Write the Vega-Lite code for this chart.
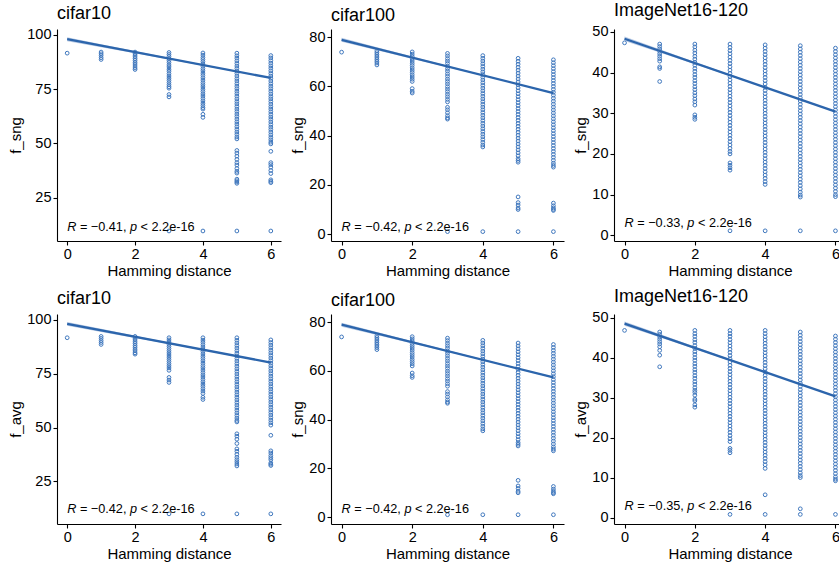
{
"$schema": "https://vega.github.io/schema/vega-lite/v6.json",
"padding": {"left": 8, "top": 1, "right": 0, "bottom": 0},
"datasets": {
"d1": [
{"x":0,"y":91.5},
{"x":1,"y":92},{"x":1,"y":91.2},{"x":1,"y":90.4},{"x":1,"y":89.4},{"x":1,"y":88.6},
{"x":2,"y":92},{"x":2,"y":91.3},{"x":2,"y":90.6},{"x":2,"y":89.8},{"x":2,"y":89},{"x":2,"y":88.2},{"x":2,"y":87.3},{"x":2,"y":86.5},{"x":2,"y":85.6},{"x":2,"y":84.7},{"x":2,"y":84},
{"x":3,"y":91.8},{"x":3,"y":90.9},{"x":3,"y":90},{"x":3,"y":89},{"x":3,"y":88.1},{"x":3,"y":87.2},{"x":3,"y":86.1},{"x":3,"y":85.2},{"x":3,"y":84.1},{"x":3,"y":83.2},{"x":3,"y":82.1},{"x":3,"y":81},{"x":3,"y":80},{"x":3,"y":79},{"x":3,"y":78},{"x":3,"y":77},{"x":3,"y":76.1},{"x":3,"y":75.4},{"x":3,"y":72.5},{"x":3,"y":71.4},{"x":3,"y":9.8},
{"x":4,"y":91.6},{"x":4,"y":90.6},{"x":4,"y":89.5},{"x":4,"y":88.6},{"x":4,"y":87.6},{"x":4,"y":86.5},{"x":4,"y":85.5},{"x":4,"y":84.4},{"x":4,"y":83.4},{"x":4,"y":82.3},{"x":4,"y":81.3},{"x":4,"y":80.2},{"x":4,"y":79.1},{"x":4,"y":78},{"x":4,"y":77},{"x":4,"y":76},{"x":4,"y":74.9},{"x":4,"y":73.9},{"x":4,"y":72.8},{"x":4,"y":71.8},{"x":4,"y":70.7},{"x":4,"y":69.6},{"x":4,"y":68.5},{"x":4,"y":67.5},{"x":4,"y":66.5},{"x":4,"y":65.8},{"x":4,"y":63.4},{"x":4,"y":62},{"x":4,"y":9.8},
{"x":5,"y":91.5},{"x":5,"y":90.3},{"x":5,"y":89.2},{"x":5,"y":88},{"x":5,"y":86.8},{"x":5,"y":85.6},{"x":5,"y":84.5},{"x":5,"y":83.3},{"x":5,"y":82.2},{"x":5,"y":81},{"x":5,"y":79.8},{"x":5,"y":78.7},{"x":5,"y":77.5},{"x":5,"y":76.3},{"x":5,"y":75.2},{"x":5,"y":74},{"x":5,"y":72.9},{"x":5,"y":71.7},{"x":5,"y":70.5},{"x":5,"y":69.3},{"x":5,"y":68.2},{"x":5,"y":67},{"x":5,"y":65.8},{"x":5,"y":64.7},{"x":5,"y":63.5},{"x":5,"y":62.4},{"x":5,"y":61.2},{"x":5,"y":60},{"x":5,"y":58.9},{"x":5,"y":57.7},{"x":5,"y":56.5},{"x":5,"y":55.3},{"x":5,"y":54.2},{"x":5,"y":53},{"x":5,"y":52.1},{"x":5,"y":46.8},{"x":5,"y":45.6},{"x":5,"y":44.2},{"x":5,"y":42.7},{"x":5,"y":41.2},{"x":5,"y":40.1},{"x":5,"y":38.5},{"x":5,"y":37.2},{"x":5,"y":36.4},{"x":5,"y":33.6},{"x":5,"y":32.9},{"x":5,"y":32.3},{"x":5,"y":31.7},{"x":5,"y":9.8},
{"x":6,"y":90.4},{"x":6,"y":89.3},{"x":6,"y":88.1},{"x":6,"y":86.9},{"x":6,"y":85.7},{"x":6,"y":84.6},{"x":6,"y":83.4},{"x":6,"y":82.2},{"x":6,"y":81},{"x":6,"y":79.9},{"x":6,"y":78.7},{"x":6,"y":77.5},{"x":6,"y":76.3},{"x":6,"y":75.2},{"x":6,"y":74},{"x":6,"y":72.8},{"x":6,"y":71.6},{"x":6,"y":70.5},{"x":6,"y":69.3},{"x":6,"y":68.1},{"x":6,"y":66.9},{"x":6,"y":65.8},{"x":6,"y":64.6},{"x":6,"y":63.4},{"x":6,"y":62.2},{"x":6,"y":61.1},{"x":6,"y":59.9},{"x":6,"y":58.7},{"x":6,"y":57.5},{"x":6,"y":56.4},{"x":6,"y":55.2},{"x":6,"y":54},{"x":6,"y":52.8},{"x":6,"y":51.7},{"x":6,"y":50.6},{"x":6,"y":49.8},{"x":6,"y":46.4},{"x":6,"y":41.2},{"x":6,"y":40.3},{"x":6,"y":39.1},{"x":6,"y":37.6},{"x":6,"y":36.2},{"x":6,"y":33.3},{"x":6,"y":32.6},{"x":6,"y":32},{"x":6,"y":9.8}
],
"d4": [
{"x":0,"y":91.6},
{"x":1,"y":92.2},{"x":1,"y":91.3},{"x":1,"y":90.3},{"x":1,"y":89.4},{"x":1,"y":88.5},
{"x":2,"y":92.2},{"x":2,"y":91.4},{"x":2,"y":90.6},{"x":2,"y":89.7},{"x":2,"y":88.9},{"x":2,"y":88},{"x":2,"y":87.2},{"x":2,"y":86.3},{"x":2,"y":85.5},{"x":2,"y":84.6},{"x":2,"y":84},
{"x":3,"y":91.6},{"x":3,"y":90.6},{"x":3,"y":89.6},{"x":3,"y":88.6},{"x":3,"y":87.6},{"x":3,"y":86.6},{"x":3,"y":85.6},{"x":3,"y":84.6},{"x":3,"y":83.6},{"x":3,"y":82.6},{"x":3,"y":81.6},{"x":3,"y":80.6},{"x":3,"y":79.6},{"x":3,"y":78.6},{"x":3,"y":77.6},{"x":3,"y":76.5},{"x":3,"y":73.2},{"x":3,"y":72},{"x":3,"y":70.9},{"x":3,"y":10},
{"x":4,"y":91.6},{"x":4,"y":90.5},{"x":4,"y":89.5},{"x":4,"y":88.4},{"x":4,"y":87.3},{"x":4,"y":86.2},{"x":4,"y":85.2},{"x":4,"y":84.1},{"x":4,"y":83},{"x":4,"y":82},{"x":4,"y":80.9},{"x":4,"y":79.8},{"x":4,"y":78.7},{"x":4,"y":77.7},{"x":4,"y":76.6},{"x":4,"y":75.5},{"x":4,"y":74.4},{"x":4,"y":73.4},{"x":4,"y":72.3},{"x":4,"y":71.2},{"x":4,"y":70.1},{"x":4,"y":69.1},{"x":4,"y":68},{"x":4,"y":66.9},{"x":4,"y":65.8},{"x":4,"y":64},{"x":4,"y":63},{"x":4,"y":10},
{"x":5,"y":91.6},{"x":5,"y":90.4},{"x":5,"y":89.2},{"x":5,"y":88},{"x":5,"y":86.8},{"x":5,"y":85.6},{"x":5,"y":84.4},{"x":5,"y":83.2},{"x":5,"y":82},{"x":5,"y":80.8},{"x":5,"y":79.6},{"x":5,"y":78.4},{"x":5,"y":77.2},{"x":5,"y":76},{"x":5,"y":74.8},{"x":5,"y":73.6},{"x":5,"y":72.4},{"x":5,"y":71.2},{"x":5,"y":70},{"x":5,"y":68.8},{"x":5,"y":67.6},{"x":5,"y":66.4},{"x":5,"y":65.2},{"x":5,"y":64},{"x":5,"y":62.8},{"x":5,"y":61.6},{"x":5,"y":60.4},{"x":5,"y":59.2},{"x":5,"y":58},{"x":5,"y":56.8},{"x":5,"y":55.6},{"x":5,"y":54.4},{"x":5,"y":53.3},{"x":5,"y":52.6},{"x":5,"y":47.1},{"x":5,"y":46},{"x":5,"y":44.6},{"x":5,"y":42.6},{"x":5,"y":40.1},{"x":5,"y":39},{"x":5,"y":37.6},{"x":5,"y":36.2},{"x":5,"y":35.1},{"x":5,"y":34.1},{"x":5,"y":33.1},{"x":5,"y":32.2},{"x":5,"y":10},
{"x":6,"y":90.6},{"x":6,"y":89.4},{"x":6,"y":88.2},{"x":6,"y":87},{"x":6,"y":85.8},{"x":6,"y":84.6},{"x":6,"y":83.4},{"x":6,"y":82.2},{"x":6,"y":81},{"x":6,"y":79.8},{"x":6,"y":78.6},{"x":6,"y":77.4},{"x":6,"y":76.2},{"x":6,"y":75},{"x":6,"y":73.8},{"x":6,"y":72.6},{"x":6,"y":71.4},{"x":6,"y":70.2},{"x":6,"y":69},{"x":6,"y":67.8},{"x":6,"y":66.6},{"x":6,"y":65.4},{"x":6,"y":64.2},{"x":6,"y":63},{"x":6,"y":61.8},{"x":6,"y":60.6},{"x":6,"y":59.4},{"x":6,"y":58.2},{"x":6,"y":57},{"x":6,"y":55.8},{"x":6,"y":54.6},{"x":6,"y":53.4},{"x":6,"y":52.2},{"x":6,"y":51.1},{"x":6,"y":46.4},{"x":6,"y":39.2},{"x":6,"y":38.2},{"x":6,"y":37},{"x":6,"y":36},{"x":6,"y":35.1},{"x":6,"y":33.6},{"x":6,"y":33},{"x":6,"y":32.4},{"x":6,"y":10}
],
"d2": [
{"x":0,"y":73.9},
{"x":1,"y":74.4},{"x":1,"y":73.7},{"x":1,"y":73},{"x":1,"y":72.3},{"x":1,"y":71.6},{"x":1,"y":70.9},{"x":1,"y":70.2},{"x":1,"y":69.5},{"x":1,"y":68.7},
{"x":2,"y":74},{"x":2,"y":73.1},{"x":2,"y":72.2},{"x":2,"y":71.2},{"x":2,"y":70.3},{"x":2,"y":69.4},{"x":2,"y":68.5},{"x":2,"y":67.5},{"x":2,"y":66.6},{"x":2,"y":65.7},{"x":2,"y":64.7},{"x":2,"y":63.8},{"x":2,"y":62.9},{"x":2,"y":62},{"x":2,"y":59.1},{"x":2,"y":58},{"x":2,"y":57.3},
{"x":3,"y":73.4},{"x":3,"y":72.4},{"x":3,"y":71.3},{"x":3,"y":70.3},{"x":3,"y":69.3},{"x":3,"y":68.2},{"x":3,"y":67.2},{"x":3,"y":66.2},{"x":3,"y":65.1},{"x":3,"y":64.1},{"x":3,"y":63},{"x":3,"y":62},{"x":3,"y":61},{"x":3,"y":59.9},{"x":3,"y":58.9},{"x":3,"y":57.9},{"x":3,"y":56.8},{"x":3,"y":55.8},{"x":3,"y":54.7},{"x":3,"y":53.7},{"x":3,"y":51.5},{"x":3,"y":50.5},{"x":3,"y":49.3},{"x":3,"y":48.1},{"x":3,"y":47.2},{"x":3,"y":46.7},{"x":3,"y":1},
{"x":4,"y":72.5},{"x":4,"y":71.4},{"x":4,"y":70.3},{"x":4,"y":69.2},{"x":4,"y":68.1},{"x":4,"y":67},{"x":4,"y":65.9},{"x":4,"y":64.8},{"x":4,"y":63.7},{"x":4,"y":62.6},{"x":4,"y":61.5},{"x":4,"y":60.4},{"x":4,"y":59.3},{"x":4,"y":58.2},{"x":4,"y":57.1},{"x":4,"y":56},{"x":4,"y":54.9},{"x":4,"y":53.8},{"x":4,"y":52.7},{"x":4,"y":51.6},{"x":4,"y":50.5},{"x":4,"y":49.4},{"x":4,"y":48.3},{"x":4,"y":47.2},{"x":4,"y":46.1},{"x":4,"y":45},{"x":4,"y":43.9},{"x":4,"y":42.8},{"x":4,"y":41.7},{"x":4,"y":40.6},{"x":4,"y":39.5},{"x":4,"y":38.4},{"x":4,"y":37.3},{"x":4,"y":36.2},{"x":4,"y":35.4},{"x":4,"y":1},
{"x":5,"y":71.4},{"x":5,"y":70.2},{"x":5,"y":69},{"x":5,"y":67.8},{"x":5,"y":66.6},{"x":5,"y":65.4},{"x":5,"y":64.2},{"x":5,"y":63},{"x":5,"y":61.8},{"x":5,"y":60.6},{"x":5,"y":59.4},{"x":5,"y":58.2},{"x":5,"y":57},{"x":5,"y":55.8},{"x":5,"y":54.6},{"x":5,"y":53.4},{"x":5,"y":52.2},{"x":5,"y":51},{"x":5,"y":49.8},{"x":5,"y":48.6},{"x":5,"y":47.4},{"x":5,"y":46.2},{"x":5,"y":45},{"x":5,"y":43.8},{"x":5,"y":42.6},{"x":5,"y":41.4},{"x":5,"y":40.2},{"x":5,"y":39},{"x":5,"y":37.8},{"x":5,"y":36.6},{"x":5,"y":35.4},{"x":5,"y":34.2},{"x":5,"y":33},{"x":5,"y":31.8},{"x":5,"y":30.6},{"x":5,"y":29.9},{"x":5,"y":29.2},{"x":5,"y":15.1},{"x":5,"y":12.8},{"x":5,"y":11.8},{"x":5,"y":10.6},{"x":5,"y":10},{"x":5,"y":1},
{"x":6,"y":70.8},{"x":6,"y":69.6},{"x":6,"y":68.4},{"x":6,"y":67.2},{"x":6,"y":66},{"x":6,"y":64.8},{"x":6,"y":63.6},{"x":6,"y":62.4},{"x":6,"y":61.2},{"x":6,"y":60},{"x":6,"y":58.8},{"x":6,"y":57.6},{"x":6,"y":56.4},{"x":6,"y":55.2},{"x":6,"y":54},{"x":6,"y":52.8},{"x":6,"y":51.6},{"x":6,"y":50.4},{"x":6,"y":49.2},{"x":6,"y":48},{"x":6,"y":46.8},{"x":6,"y":45.6},{"x":6,"y":44.4},{"x":6,"y":43.2},{"x":6,"y":42},{"x":6,"y":40.8},{"x":6,"y":39.6},{"x":6,"y":38.4},{"x":6,"y":37.2},{"x":6,"y":36},{"x":6,"y":34.8},{"x":6,"y":33.6},{"x":6,"y":32.4},{"x":6,"y":31.2},{"x":6,"y":30},{"x":6,"y":28.8},{"x":6,"y":27.9},{"x":6,"y":27.2},{"x":6,"y":12.6},{"x":6,"y":11.5},{"x":6,"y":10.6},{"x":6,"y":10},{"x":6,"y":9.6},{"x":6,"y":1}
],
"d3": [
{"x":0,"y":47.3},
{"x":1,"y":47},{"x":1,"y":46.4},{"x":1,"y":45.8},{"x":1,"y":45.2},{"x":1,"y":44.6},{"x":1,"y":44},{"x":1,"y":43.4},{"x":1,"y":42.8},{"x":1,"y":41.4},{"x":1,"y":41},{"x":1,"y":37.8},
{"x":2,"y":47},{"x":2,"y":46.3},{"x":2,"y":45.5},{"x":2,"y":44.8},{"x":2,"y":44},{"x":2,"y":43.3},{"x":2,"y":42.5},{"x":2,"y":41.8},{"x":2,"y":41},{"x":2,"y":40.3},{"x":2,"y":39.5},{"x":2,"y":38.8},{"x":2,"y":38},{"x":2,"y":37.3},{"x":2,"y":36.5},{"x":2,"y":35.8},{"x":2,"y":35},{"x":2,"y":34.3},{"x":2,"y":33.5},{"x":2,"y":32.8},{"x":2,"y":32},{"x":2,"y":29.6},{"x":2,"y":29},{"x":2,"y":28.5},
{"x":3,"y":47},{"x":3,"y":46.2},{"x":3,"y":45.4},{"x":3,"y":44.6},{"x":3,"y":43.8},{"x":3,"y":43},{"x":3,"y":42.2},{"x":3,"y":41.4},{"x":3,"y":40.6},{"x":3,"y":39.8},{"x":3,"y":39},{"x":3,"y":38.2},{"x":3,"y":37.4},{"x":3,"y":36.6},{"x":3,"y":35.8},{"x":3,"y":35},{"x":3,"y":34.2},{"x":3,"y":33.4},{"x":3,"y":32.6},{"x":3,"y":31.8},{"x":3,"y":31},{"x":3,"y":30.2},{"x":3,"y":29.4},{"x":3,"y":28.6},{"x":3,"y":27.8},{"x":3,"y":27},{"x":3,"y":26.2},{"x":3,"y":25.4},{"x":3,"y":24.6},{"x":3,"y":23.8},{"x":3,"y":23},{"x":3,"y":22.2},{"x":3,"y":21.4},{"x":3,"y":20.6},{"x":3,"y":20},{"x":3,"y":17.8},{"x":3,"y":17.2},{"x":3,"y":16.6},{"x":3,"y":16},{"x":3,"y":1.1},
{"x":4,"y":46.8},{"x":4,"y":46},{"x":4,"y":45.2},{"x":4,"y":44.4},{"x":4,"y":43.6},{"x":4,"y":42.8},{"x":4,"y":42},{"x":4,"y":41.2},{"x":4,"y":40.4},{"x":4,"y":39.6},{"x":4,"y":38.8},{"x":4,"y":38},{"x":4,"y":37.2},{"x":4,"y":36.4},{"x":4,"y":35.6},{"x":4,"y":34.8},{"x":4,"y":34},{"x":4,"y":33.2},{"x":4,"y":32.4},{"x":4,"y":31.6},{"x":4,"y":30.8},{"x":4,"y":30},{"x":4,"y":29.2},{"x":4,"y":28.4},{"x":4,"y":27.6},{"x":4,"y":26.8},{"x":4,"y":26},{"x":4,"y":25.2},{"x":4,"y":24.4},{"x":4,"y":23.6},{"x":4,"y":22.8},{"x":4,"y":22},{"x":4,"y":21.2},{"x":4,"y":20.4},{"x":4,"y":19.6},{"x":4,"y":18.8},{"x":4,"y":18},{"x":4,"y":17.2},{"x":4,"y":16.4},{"x":4,"y":15.6},{"x":4,"y":14.8},{"x":4,"y":14},{"x":4,"y":13.2},{"x":4,"y":12.5},{"x":4,"y":1.1},
{"x":5,"y":46.6},{"x":5,"y":45.8},{"x":5,"y":45},{"x":5,"y":44.2},{"x":5,"y":43.4},{"x":5,"y":42.6},{"x":5,"y":41.8},{"x":5,"y":41},{"x":5,"y":40.2},{"x":5,"y":39.4},{"x":5,"y":38.6},{"x":5,"y":37.8},{"x":5,"y":37},{"x":5,"y":36.2},{"x":5,"y":35.4},{"x":5,"y":34.6},{"x":5,"y":33.8},{"x":5,"y":33},{"x":5,"y":32.2},{"x":5,"y":31.4},{"x":5,"y":30.6},{"x":5,"y":29.8},{"x":5,"y":29},{"x":5,"y":28.2},{"x":5,"y":27.4},{"x":5,"y":26.6},{"x":5,"y":25.8},{"x":5,"y":25},{"x":5,"y":24.2},{"x":5,"y":23.4},{"x":5,"y":22.6},{"x":5,"y":21.8},{"x":5,"y":21},{"x":5,"y":20.2},{"x":5,"y":19.4},{"x":5,"y":18.6},{"x":5,"y":17.8},{"x":5,"y":17},{"x":5,"y":16.2},{"x":5,"y":15.4},{"x":5,"y":14.6},{"x":5,"y":13.8},{"x":5,"y":13},{"x":5,"y":12.2},{"x":5,"y":11.4},{"x":5,"y":10.6},{"x":5,"y":9.9},{"x":5,"y":9.4},{"x":5,"y":1.1},
{"x":6,"y":46},{"x":6,"y":45.2},{"x":6,"y":44.4},{"x":6,"y":43.6},{"x":6,"y":42.8},{"x":6,"y":42},{"x":6,"y":41.2},{"x":6,"y":40.4},{"x":6,"y":39.6},{"x":6,"y":38.8},{"x":6,"y":38},{"x":6,"y":37.2},{"x":6,"y":36.4},{"x":6,"y":35.6},{"x":6,"y":34.8},{"x":6,"y":34},{"x":6,"y":33.2},{"x":6,"y":32.4},{"x":6,"y":31.6},{"x":6,"y":30.8},{"x":6,"y":30},{"x":6,"y":29.2},{"x":6,"y":28.4},{"x":6,"y":27.6},{"x":6,"y":26.8},{"x":6,"y":26},{"x":6,"y":25.2},{"x":6,"y":24.4},{"x":6,"y":23.6},{"x":6,"y":22.8},{"x":6,"y":22},{"x":6,"y":21.2},{"x":6,"y":20.4},{"x":6,"y":19.6},{"x":6,"y":18.8},{"x":6,"y":18},{"x":6,"y":17.2},{"x":6,"y":16.4},{"x":6,"y":15.6},{"x":6,"y":14.8},{"x":6,"y":14},{"x":6,"y":13.2},{"x":6,"y":12.4},{"x":6,"y":11.6},{"x":6,"y":10.8},{"x":6,"y":10},{"x":6,"y":9.5},{"x":6,"y":1.1}
],
"d6": [
{"x":0,"y":46.8},
{"x":1,"y":46.4},{"x":1,"y":45.8},{"x":1,"y":45.2},{"x":1,"y":44.6},{"x":1,"y":44},{"x":1,"y":43.4},{"x":1,"y":42.7},{"x":1,"y":41.8},{"x":1,"y":40.6},{"x":1,"y":37.7},
{"x":2,"y":46.8},{"x":2,"y":46},{"x":2,"y":45.3},{"x":2,"y":44.5},{"x":2,"y":43.8},{"x":2,"y":43},{"x":2,"y":42.3},{"x":2,"y":41.5},{"x":2,"y":40.8},{"x":2,"y":40},{"x":2,"y":39.3},{"x":2,"y":38.5},{"x":2,"y":37.8},{"x":2,"y":37},{"x":2,"y":36.3},{"x":2,"y":35.5},{"x":2,"y":34.8},{"x":2,"y":34},{"x":2,"y":33.3},{"x":2,"y":32.5},{"x":2,"y":31.8},{"x":2,"y":31.3},{"x":2,"y":30.6},{"x":2,"y":29.6},{"x":2,"y":29.2},{"x":2,"y":28.2},{"x":2,"y":27.6},
{"x":3,"y":46.8},{"x":3,"y":46},{"x":3,"y":45.3},{"x":3,"y":44.5},{"x":3,"y":43.7},{"x":3,"y":42.9},{"x":3,"y":42.1},{"x":3,"y":41.3},{"x":3,"y":40.5},{"x":3,"y":39.7},{"x":3,"y":38.9},{"x":3,"y":38.1},{"x":3,"y":37.3},{"x":3,"y":36.5},{"x":3,"y":35.7},{"x":3,"y":34.9},{"x":3,"y":34.1},{"x":3,"y":33.3},{"x":3,"y":32.5},{"x":3,"y":31.7},{"x":3,"y":30.9},{"x":3,"y":30.1},{"x":3,"y":29.3},{"x":3,"y":28.5},{"x":3,"y":27.7},{"x":3,"y":26.9},{"x":3,"y":26.1},{"x":3,"y":25.3},{"x":3,"y":24.5},{"x":3,"y":23.7},{"x":3,"y":22.9},{"x":3,"y":22.1},{"x":3,"y":21.3},{"x":3,"y":20.5},{"x":3,"y":19.7},{"x":3,"y":19},{"x":3,"y":17.3},{"x":3,"y":16.8},{"x":3,"y":16.2},{"x":3,"y":0.8},
{"x":4,"y":46.8},{"x":4,"y":46},{"x":4,"y":45.2},{"x":4,"y":44.4},{"x":4,"y":43.6},{"x":4,"y":42.8},{"x":4,"y":42},{"x":4,"y":41.2},{"x":4,"y":40.4},{"x":4,"y":39.6},{"x":4,"y":38.8},{"x":4,"y":38},{"x":4,"y":37.2},{"x":4,"y":36.4},{"x":4,"y":35.6},{"x":4,"y":34.8},{"x":4,"y":34},{"x":4,"y":33.2},{"x":4,"y":32.4},{"x":4,"y":31.6},{"x":4,"y":30.8},{"x":4,"y":30},{"x":4,"y":29.2},{"x":4,"y":28.4},{"x":4,"y":27.6},{"x":4,"y":26.8},{"x":4,"y":26},{"x":4,"y":25.2},{"x":4,"y":24.4},{"x":4,"y":23.6},{"x":4,"y":22.8},{"x":4,"y":22},{"x":4,"y":21.2},{"x":4,"y":20.4},{"x":4,"y":19.6},{"x":4,"y":18.8},{"x":4,"y":18},{"x":4,"y":17.2},{"x":4,"y":16.4},{"x":4,"y":15.6},{"x":4,"y":14.8},{"x":4,"y":14},{"x":4,"y":13.2},{"x":4,"y":12.3},{"x":4,"y":5.7},{"x":4,"y":0.8},
{"x":5,"y":46.4},{"x":5,"y":45.6},{"x":5,"y":44.8},{"x":5,"y":44},{"x":5,"y":43.2},{"x":5,"y":42.4},{"x":5,"y":41.6},{"x":5,"y":40.8},{"x":5,"y":40},{"x":5,"y":39.2},{"x":5,"y":38.4},{"x":5,"y":37.6},{"x":5,"y":36.8},{"x":5,"y":36},{"x":5,"y":35.2},{"x":5,"y":34.4},{"x":5,"y":33.6},{"x":5,"y":32.8},{"x":5,"y":32},{"x":5,"y":31.2},{"x":5,"y":30.4},{"x":5,"y":29.6},{"x":5,"y":28.8},{"x":5,"y":28},{"x":5,"y":27.2},{"x":5,"y":26.4},{"x":5,"y":25.6},{"x":5,"y":24.8},{"x":5,"y":24},{"x":5,"y":23.2},{"x":5,"y":22.4},{"x":5,"y":21.6},{"x":5,"y":20.8},{"x":5,"y":20},{"x":5,"y":19.2},{"x":5,"y":18.4},{"x":5,"y":17.6},{"x":5,"y":16.8},{"x":5,"y":16},{"x":5,"y":15.2},{"x":5,"y":14.4},{"x":5,"y":13.6},{"x":5,"y":12.8},{"x":5,"y":12},{"x":5,"y":11.2},{"x":5,"y":10.5},{"x":5,"y":10},{"x":5,"y":2.2},{"x":5,"y":0.8},
{"x":6,"y":45.4},{"x":6,"y":44.6},{"x":6,"y":43.8},{"x":6,"y":43},{"x":6,"y":42.2},{"x":6,"y":41.4},{"x":6,"y":40.6},{"x":6,"y":39.8},{"x":6,"y":39},{"x":6,"y":38.2},{"x":6,"y":37.4},{"x":6,"y":36.6},{"x":6,"y":35.8},{"x":6,"y":35},{"x":6,"y":34.2},{"x":6,"y":33.4},{"x":6,"y":32.6},{"x":6,"y":31.8},{"x":6,"y":31},{"x":6,"y":30.2},{"x":6,"y":29.4},{"x":6,"y":28.6},{"x":6,"y":27.8},{"x":6,"y":27},{"x":6,"y":26.2},{"x":6,"y":25.4},{"x":6,"y":24.6},{"x":6,"y":23.8},{"x":6,"y":23},{"x":6,"y":22.2},{"x":6,"y":21.4},{"x":6,"y":20.6},{"x":6,"y":19.8},{"x":6,"y":19},{"x":6,"y":18.2},{"x":6,"y":17.4},{"x":6,"y":16.6},{"x":6,"y":15.8},{"x":6,"y":15},{"x":6,"y":14.2},{"x":6,"y":13.4},{"x":6,"y":12.6},{"x":6,"y":11.8},{"x":6,"y":11},{"x":6,"y":10.2},{"x":6,"y":9.6},{"x":6,"y":9.2},{"x":6,"y":0.8}
],
"b1": [{"x":0,"y":97.0,"y2":98.8},{"x":1,"y":94.2,"y2":95.65},{"x":2,"y":91.45,"y2":92.5},{"x":3,"y":88.6,"y2":89.4},{"x":4,"y":85.75,"y2":86.3},{"x":5,"y":82.85,"y2":83.3},{"x":6,"y":79.85,"y2":80.35}],
"l1": [{"x":0,"y":97.9},{"x":6,"y":80.1}],
"b4": [{"x":0,"y":97.1,"y2":98.9},{"x":1,"y":94.3,"y2":95.75},{"x":2,"y":91.5,"y2":92.55},{"x":3,"y":88.65,"y2":89.45},{"x":4,"y":85.8,"y2":86.35},{"x":5,"y":82.85,"y2":83.3},{"x":6,"y":79.85,"y2":80.35}],
"l4": [{"x":0,"y":98.0},{"x":6,"y":80.1}],
"b2": [{"x":0,"y":78.1,"y2":79.7},{"x":1,"y":74.7,"y2":75.9},{"x":2,"y":71.25,"y2":72.15},{"x":3,"y":67.8,"y2":68.4},{"x":4,"y":64.3,"y2":64.7},{"x":5,"y":60.72,"y2":61.08},{"x":6,"y":57.05,"y2":57.55}],
"l2": [{"x":0,"y":78.9},{"x":6,"y":57.3}],
"b3": [{"x":0,"y":47.75,"y2":48.85},{"x":1,"y":44.92,"y2":45.72},{"x":2,"y":42.05,"y2":42.61},{"x":3,"y":39.17,"y2":39.53},{"x":4,"y":36.25,"y2":36.49},{"x":5,"y":33.28,"y2":33.48},{"x":6,"y":30.27,"y2":30.53}],
"l3": [{"x":0,"y":48.3},{"x":6,"y":30.4}],
"b6": [{"x":0,"y":47.95,"y2":49.05},{"x":1,"y":45.07,"y2":45.87},{"x":2,"y":42.15,"y2":42.71},{"x":3,"y":39.22,"y2":39.58},{"x":4,"y":36.25,"y2":36.49},{"x":5,"y":33.23,"y2":33.43},{"x":6,"y":30.17,"y2":30.43}],
"l6": [{"x":0,"y":48.5},{"x":6,"y":30.3}],
"t1": [{"x":0,"y":11.8,"a":"= −0.41,"}],
"t2": [{"x":0,"y":3.0,"a":"= −0.42,"}],
"t3": [{"x":0,"y":3.1,"a":"= −0.33,"}],
"t4": [{"x":0,"y":12.2,"a":"= −0.42,"}],
"t5": [{"x":0,"y":3.2,"a":"= −0.42,"}],
"t6": [{"x":0,"y":3.0,"a":"= −0.35,"}]
},
"spacing": 8,
"vconcat": [
{"hconcat": [
{"title":"cifar10","width":224,"height":212,
"encoding":{"x":{"field":"x","type":"quantitative","scale":{"domain":[-0.3,6.3],"nice":false,"zero":false},"axis":{"values":[0,2,4,6],"title":"Hamming distance"}},
"y":{"field":"y","type":"quantitative","scale":{"domain":[5.2,102.6],"nice":false,"zero":false},"axis":{"values":[25,50,75,100],"title":"f_sng"}}},
"layer":[
{"data":{"name":"d1"},"mark":{"type":"point","shape":"circle","filled":false,"size":14,"strokeWidth":1,"color":"#4078be","opacity":1}},
{"data":{"name":"b1"},"mark":{"type":"area","color":"#8aa8d4","opacity":0.6},"encoding":{"y2":{"field":"y2"}}},
{"data":{"name":"l1"},"mark":{"type":"line","color":"#2c65ac","strokeWidth":2.3}},
{"data":{"name":"t1"},"mark":{"type":"text","text":"R","fontStyle":"italic","align":"left","baseline":"middle","fontSize":12.7}},
{"data":{"name":"t1"},"mark":{"type":"text","align":"left","baseline":"middle","fontSize":12.7,"dx":12.7},"encoding":{"text":{"field":"a"}}},
{"data":{"name":"t1"},"mark":{"type":"text","text":"p","fontStyle":"italic","align":"left","baseline":"middle","fontSize":12.7,"dx":62.8}},
{"data":{"name":"t1"},"mark":{"type":"text","text":"< 2.2e-16","align":"left","baseline":"middle","fontSize":12.7,"dx":73.4}}
]},
{"title":"cifar100","width":233,"height":212,
"encoding":{"x":{"field":"x","type":"quantitative","scale":{"domain":[-0.3,6.3],"nice":false,"zero":false},"axis":{"values":[0,2,4,6],"title":"Hamming distance"}},
"y":{"field":"y","type":"quantitative","scale":{"domain":[-2.8,83.3],"nice":false,"zero":false},"axis":{"values":[0,20,40,60,80],"title":"f_sng"}}},
"layer":[
{"data":{"name":"d2"},"mark":{"type":"point","shape":"circle","filled":false,"size":14,"strokeWidth":1,"color":"#4078be","opacity":1}},
{"data":{"name":"b2"},"mark":{"type":"area","color":"#8aa8d4","opacity":0.6},"encoding":{"y2":{"field":"y2"}}},
{"data":{"name":"l2"},"mark":{"type":"line","color":"#2c65ac","strokeWidth":2.3}},
{"data":{"name":"t2"},"mark":{"type":"text","text":"R","fontStyle":"italic","align":"left","baseline":"middle","fontSize":12.7}},
{"data":{"name":"t2"},"mark":{"type":"text","align":"left","baseline":"middle","fontSize":12.7,"dx":12.7},"encoding":{"text":{"field":"a"}}},
{"data":{"name":"t2"},"mark":{"type":"text","text":"p","fontStyle":"italic","align":"left","baseline":"middle","fontSize":12.7,"dx":62.8}},
{"data":{"name":"t2"},"mark":{"type":"text","text":"< 2.2e-16","align":"left","baseline":"middle","fontSize":12.7,"dx":73.4}}
]},
{"title":"ImageNet16-120","width":232,"height":212,
"encoding":{"x":{"field":"x","type":"quantitative","scale":{"domain":[-0.3,6.3],"nice":false,"zero":false},"axis":{"values":[0,2,4,6],"title":"Hamming distance"}},
"y":{"field":"y","type":"quantitative","scale":{"domain":[-1.4,50.7],"nice":false,"zero":false},"axis":{"values":[0,10,20,30,40,50],"title":"f_sng"}}},
"layer":[
{"data":{"name":"d3"},"mark":{"type":"point","shape":"circle","filled":false,"size":14,"strokeWidth":1,"color":"#4078be","opacity":1}},
{"data":{"name":"b3"},"mark":{"type":"area","color":"#8aa8d4","opacity":0.6},"encoding":{"y2":{"field":"y2"}}},
{"data":{"name":"l3"},"mark":{"type":"line","color":"#2c65ac","strokeWidth":2.3}},
{"data":{"name":"t3"},"mark":{"type":"text","text":"R","fontStyle":"italic","align":"left","baseline":"middle","fontSize":12.7}},
{"data":{"name":"t3"},"mark":{"type":"text","align":"left","baseline":"middle","fontSize":12.7,"dx":12.7},"encoding":{"text":{"field":"a"}}},
{"data":{"name":"t3"},"mark":{"type":"text","text":"p","fontStyle":"italic","align":"left","baseline":"middle","fontSize":12.7,"dx":62.8}},
{"data":{"name":"t3"},"mark":{"type":"text","text":"< 2.2e-16","align":"left","baseline":"middle","fontSize":12.7,"dx":73.4}}
]}
], "spacing": 9},
{"hconcat": [
{"title":"cifar10","width":224,"height":210,
"encoding":{"x":{"field":"x","type":"quantitative","scale":{"domain":[-0.3,6.3],"nice":false,"zero":false},"axis":{"values":[0,2,4,6],"title":"Hamming distance"}},
"y":{"field":"y","type":"quantitative","scale":{"domain":[5.3,102.6],"nice":false,"zero":false},"axis":{"values":[25,50,75,100],"title":"f_avg"}}},
"layer":[
{"data":{"name":"d4"},"mark":{"type":"point","shape":"circle","filled":false,"size":14,"strokeWidth":1,"color":"#4078be","opacity":1}},
{"data":{"name":"b4"},"mark":{"type":"area","color":"#8aa8d4","opacity":0.6},"encoding":{"y2":{"field":"y2"}}},
{"data":{"name":"l4"},"mark":{"type":"line","color":"#2c65ac","strokeWidth":2.3}},
{"data":{"name":"t4"},"mark":{"type":"text","text":"R","fontStyle":"italic","align":"left","baseline":"middle","fontSize":12.7}},
{"data":{"name":"t4"},"mark":{"type":"text","align":"left","baseline":"middle","fontSize":12.7,"dx":12.7},"encoding":{"text":{"field":"a"}}},
{"data":{"name":"t4"},"mark":{"type":"text","text":"p","fontStyle":"italic","align":"left","baseline":"middle","fontSize":12.7,"dx":62.8}},
{"data":{"name":"t4"},"mark":{"type":"text","text":"< 2.2e-16","align":"left","baseline":"middle","fontSize":12.7,"dx":73.4}}
]},
{"title":"cifar100","width":233,"height":210,
"encoding":{"x":{"field":"x","type":"quantitative","scale":{"domain":[-0.3,6.3],"nice":false,"zero":false},"axis":{"values":[0,2,4,6],"title":"Hamming distance"}},
"y":{"field":"y","type":"quantitative","scale":{"domain":[-2.8,83.3],"nice":false,"zero":false},"axis":{"values":[0,20,40,60,80],"title":"f_sng"}}},
"layer":[
{"data":{"name":"d2"},"mark":{"type":"point","shape":"circle","filled":false,"size":14,"strokeWidth":1,"color":"#4078be","opacity":1}},
{"data":{"name":"b2"},"mark":{"type":"area","color":"#8aa8d4","opacity":0.6},"encoding":{"y2":{"field":"y2"}}},
{"data":{"name":"l2"},"mark":{"type":"line","color":"#2c65ac","strokeWidth":2.3}},
{"data":{"name":"t5"},"mark":{"type":"text","text":"R","fontStyle":"italic","align":"left","baseline":"middle","fontSize":12.7}},
{"data":{"name":"t5"},"mark":{"type":"text","align":"left","baseline":"middle","fontSize":12.7,"dx":12.7},"encoding":{"text":{"field":"a"}}},
{"data":{"name":"t5"},"mark":{"type":"text","text":"p","fontStyle":"italic","align":"left","baseline":"middle","fontSize":12.7,"dx":62.8}},
{"data":{"name":"t5"},"mark":{"type":"text","text":"< 2.2e-16","align":"left","baseline":"middle","fontSize":12.7,"dx":73.4}}
]},
{"title":"ImageNet16-120","width":232,"height":210,
"encoding":{"x":{"field":"x","type":"quantitative","scale":{"domain":[-0.3,6.3],"nice":false,"zero":false},"axis":{"values":[0,2,4,6],"title":"Hamming distance"}},
"y":{"field":"y","type":"quantitative","scale":{"domain":[-1.6,50.9],"nice":false,"zero":false},"axis":{"values":[0,10,20,30,40,50],"title":"f_avg"}}},
"layer":[
{"data":{"name":"d6"},"mark":{"type":"point","shape":"circle","filled":false,"size":14,"strokeWidth":1,"color":"#4078be","opacity":1}},
{"data":{"name":"b6"},"mark":{"type":"area","color":"#8aa8d4","opacity":0.6},"encoding":{"y2":{"field":"y2"}}},
{"data":{"name":"l6"},"mark":{"type":"line","color":"#2c65ac","strokeWidth":2.3}},
{"data":{"name":"t6"},"mark":{"type":"text","text":"R","fontStyle":"italic","align":"left","baseline":"middle","fontSize":12.7}},
{"data":{"name":"t6"},"mark":{"type":"text","align":"left","baseline":"middle","fontSize":12.7,"dx":12.7},"encoding":{"text":{"field":"a"}}},
{"data":{"name":"t6"},"mark":{"type":"text","text":"p","fontStyle":"italic","align":"left","baseline":"middle","fontSize":12.7,"dx":62.8}},
{"data":{"name":"t6"},"mark":{"type":"text","text":"< 2.2e-16","align":"left","baseline":"middle","fontSize":12.7,"dx":73.4}}
]}
], "spacing": 9}
],
"config": {
"font": "Liberation Sans",
"view": {"stroke": null},
"axis": {"grid": false, "domainColor": "black", "tickColor": "black", "labelColor": "black", "titleColor": "black", "labelFontSize": 14.5, "titleFontSize": 15, "titleFontWeight": "normal", "tickSize": 4, "domainWidth": 1.1, "tickWidth": 1.1, "labelPadding": 2, "titlePadding": 3, "labelFlush": false, "labelFont": "Liberation Sans", "titleFont": "Liberation Sans"},
"axisY": {"titlePadding": 3},
"title": {"fontSize": 18, "fontWeight": "normal", "anchor": "start", "frame": "group", "font": "Liberation Sans", "offset": 4, "color": "black"},
"text": {"font": "Liberation Sans", "color": "black"}
}
}
